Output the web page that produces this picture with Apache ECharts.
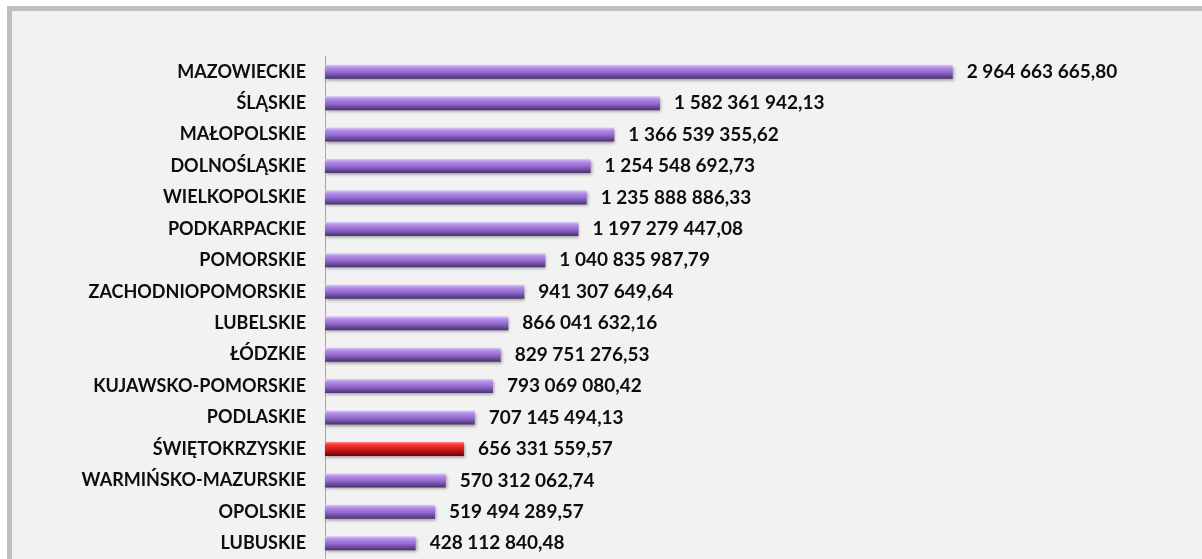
<!DOCTYPE html>
<html>
<head>
<meta charset="utf-8">
<script src="https://cdn.jsdelivr.net/npm/echarts@6/dist/echarts.min.js"></script>
<style>
  html, body { margin: 0; padding: 0; background: #ffffff; }
  #chart { width: 1202px; height: 559px; }
</style>
</head>
<body>
<div id="chart"></div>
<script>
// dane: województwa i wartości
var regions = ['MAZOWIECKIE', 'ŚLĄSKIE', 'MAŁOPOLSKIE', 'DOLNOŚLĄSKIE', 'WIELKOPOLSKIE', 'PODKARPACKIE', 'POMORSKIE', 'ZACHODNIOPOMORSKIE', 'LUBELSKIE', 'ŁÓDZKIE', 'KUJAWSKO-POMORSKIE', 'PODLASKIE', 'ŚWIĘTOKRZYSKIE', 'WARMIŃSKO-MAZURSKIE', 'OPOLSKIE', 'LUBUSKIE']
var values = [2964663665.80, 1582361942.13, 1366539355.62, 1254548692.73, 1235888886.33, 1197279447.08, 1040835987.79, 941307649.64, 866041632.16, 829751276.53, 793069080.42, 707145494.13, 656331559.57, 570312062.74, 519494289.57, 428112840.48]
var highlight = 'ŚWIĘTOKRZYSKIE'

var purple = new echarts.graphic.LinearGradient(0, 0, 0, 1, [
  { offset: 0, color: '#dcc8fa' },
  { offset: 0.2, color: '#b48ee8' },
  { offset: 0.55, color: '#9168cc' },
  { offset: 1, color: '#4a3070' }
])
var red = new echarts.graphic.LinearGradient(0, 0, 0, 1, [
  { offset: 0, color: '#ff8a8a' },
  { offset: 0.2, color: '#f53535' },
  { offset: 0.55, color: '#cc1a1a' },
  { offset: 1, color: '#700000' }
])

function fmt (v) {
  var parts = v.toFixed(2).split('.')
  return parts[0].replace(/\B(?=(\d{3})+(?!\d))/g, ' ') + ',' + parts[1]
}

var data = values.map(function (v, i) {
  return {
    value: v,
    itemStyle: { color: regions[i] === highlight ? red : purple }
  }
})

var chart = echarts.init(document.getElementById('chart'))
var option = {
  backgroundColor: '#ffffff',
  animation: false,
  graphic: [{
    type: 'rect',
    z: -10,
    shape: { x: 9.5, y: 8.5, width: 1400, height: 800 },
    style: { fill: '#f2f2f2', stroke: '#bfbfbf', lineWidth: 5 }
  }],
  grid: {
    left: 325,
    top: 56,
    width: 741,
    height: 504
  },
  xAxis: {
    type: 'value',
    min: 0,
    max: 3500000000,
    show: false
  },
  yAxis: {
    type: 'category',
    inverse: true,
    data: regions,
    axisLine: { lineStyle: { color: '#a6a6a6', width: 1 } },
    axisTick: { length: 5, lineStyle: { color: '#a6a6a6' } },
    axisLabel: {
      margin: 19,
      color: '#0d0d0d',
      fontFamily: 'Lato',
      fontWeight: 'bold',
      fontSize: 18
    }
  },
  series: [{
    type: 'bar',
    data: data,
    barWidth: 14,
    itemStyle: {
      shadowBlur: 3,
      shadowOffsetX: 1,
      shadowOffsetY: 2,
      shadowColor: 'rgba(0, 0, 0, 0.35)'
    },
    label: {
      show: true,
      position: 'right',
      distance: 14,
      color: '#0d0d0d',
      fontFamily: 'Lato',
      fontWeight: 'bold',
      fontSize: 19,
      formatter: function (p) { return fmt(p.value) }
    }
  }]
}
chart.setOption(option)
</script>
</body>
</html>
